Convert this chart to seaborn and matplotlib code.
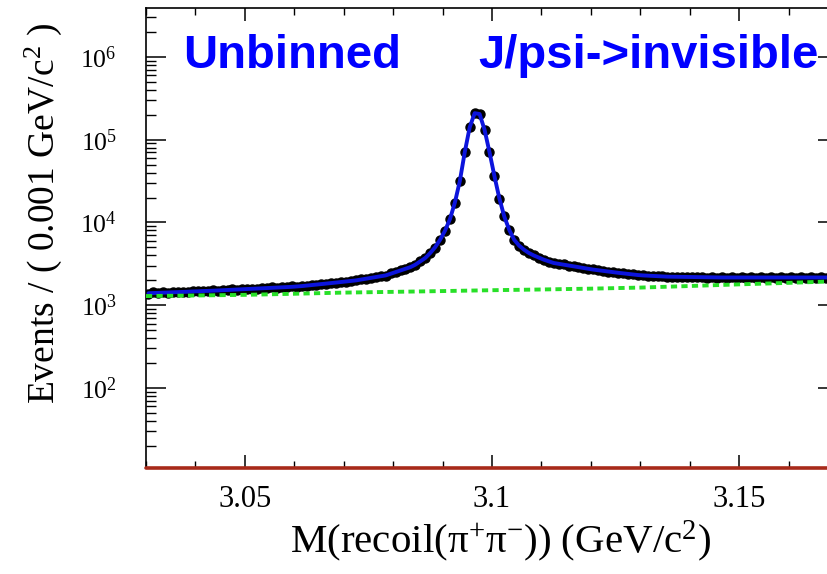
import numpy as np
import pandas as pd
import matplotlib
matplotlib.use("Agg")
import matplotlib.pyplot as plt
import seaborn as sns
from matplotlib.ticker import LogLocator, FixedLocator, MultipleLocator, NullFormatter, LogFormatterMathtext

# ---------------- data ----------------
bin_start = 3.03
bin_width = 0.001
n_bins = 140

data_counts = [
    1380, 1425, 1398, 1440, 1410, 1452, 1430, 1460, 1441, 1478,
    1465, 1490, 1476, 1512, 1495, 1530, 1514, 1549, 1532, 1570,
    1552, 1590, 1575, 1612, 1598, 1638, 1620, 1660, 1641, 1684,
    1670, 1722, 1710, 1768, 1760, 1820, 1810, 1873, 1868, 1930,
    1925, 1985, 1990, 2065, 2080, 2160, 2175, 2260, 2280, 2420,
    2495, 2650, 2740, 2905, 3070, 3410, 3690, 4300, 4980, 6200,
    7900, 11000, 17300, 31800, 70500, 141800, 209500, 203500, 132500, 70300,
    36500, 19400, 11800, 8100, 6190, 5220, 4700, 4245, 4000, 3740,
    3565, 3370, 3250, 3145, 3105, 3005, 2965, 2870, 2830, 2740,
    2705, 2630, 2612, 2540, 2525, 2455, 2440, 2375, 2360, 2305,
    2300, 2265, 2270, 2232, 2240, 2200, 2218, 2190, 2210, 2180,
    2198, 2170, 2190, 2160, 2185, 2150, 2180, 2155, 2175, 2150,
    2178, 2148, 2180, 2152, 2170, 2145, 2175, 2150, 2172, 2148,
    2176, 2150, 2170, 2145, 2174, 2152, 2168, 2150, 2172, 2160,
]

fit_counts = [
    1396, 1403, 1413, 1419, 1426, 1435, 1442, 1449, 1455, 1466,
    1472, 1483, 1489, 1500, 1507, 1517, 1528, 1538, 1545, 1556,
    1567, 1578, 1589, 1600, 1611, 1622, 1633, 1644, 1656, 1667,
    1683, 1702, 1726, 1750, 1774, 1799, 1824, 1854, 1879, 1910,
    1936, 1963, 1995, 2042, 2089, 2138, 2188, 2239, 2291, 2399,
    2512, 2630, 2754, 2884, 3090, 3388, 3715, 4266, 5012, 6166,
    7943, 10965, 17378, 31623, 70795, 141254, 208930, 204174, 131826, 70795,
    36308, 19498, 11749, 8128, 6166, 5248, 4677, 4266, 3981, 3758,
    3548, 3388, 3236, 3162, 3090, 3020, 2951, 2884, 2818, 2754,
    2692, 2642, 2600, 2553, 2512, 2466, 2427, 2388, 2344, 2317,
    2291, 2275, 2259, 2244, 2228, 2213, 2208, 2203, 2198, 2193,
    2188, 2183, 2178, 2173, 2168, 2163, 2163, 2163, 2163, 2163,
    2163, 2163, 2163, 2163, 2163, 2163, 2163, 2163, 2163, 2163,
    2163, 2163, 2163, 2163, 2163, 2163, 2163, 2163, 2163, 2163,
]

bkg_mass = [3.03, 3.04, 3.05, 3.06, 3.07, 3.08, 3.09, 3.10,
            3.11, 3.12, 3.13, 3.14, 3.15, 3.16, 3.17]
bkg_counts = [1290, 1310, 1334, 1375, 1420, 1450, 1482, 1518,
              1549, 1585, 1633, 1706, 1786, 1862, 1950]

xtick_vals = [3.05, 3.1, 3.15]
xtick_labels = ["3.05", "3.1", "3.15"]

# ---------------- style ----------------
sns.set_style("ticks")
plt.rcParams["font.family"] = ["Liberation Serif", "DejaVu Serif"]
plt.rcParams["mathtext.fontset"] = "custom"
plt.rcParams["mathtext.rm"] = "Liberation Serif"
plt.rcParams["mathtext.it"] = "Liberation Serif:italic"
plt.rcParams["mathtext.bf"] = "Liberation Serif:bold"
for k in ["text.color", "axes.labelcolor", "xtick.color", "ytick.color", "axes.edgecolor"]:
    plt.rcParams[k] = "black"

mass = bin_start + bin_width * (np.arange(n_bins) + 0.5)
df = pd.DataFrame({"mass": mass, "data": data_counts, "fit": fit_counts})
bdf = pd.DataFrame({"mass": bkg_mass, "bkg": bkg_counts})

fig = plt.figure(figsize=(8.28, 5.74), dpi=100)
ax = fig.add_axes([0.1763, 0.1847, 0.8357, 0.8014])
ax.set_yscale("log")

ymin, ymax = 10.8, 3.9e6

ax.errorbar(df["mass"], df["data"], yerr=np.sqrt(df["data"]), xerr=bin_width / 2,
            fmt="o", color="black", ms=6.5, elinewidth=1.5, capsize=0, zorder=2)
sns.lineplot(data=df, x="mass", y="fit", color="#0c14dc", lw=2.8, ax=ax, zorder=3)
sns.lineplot(data=bdf, x="mass", y="bkg", color="#28e028", lw=2.8, ax=ax, zorder=4,
             linestyle=(0, (1.6, 1.1)))
ax.axhline(ymin, color="#a82a1a", lw=2.6, zorder=5, clip_on=False)

ax.set_xlim(3.03, 3.17)
ax.set_ylim(ymin, ymax)

ax.xaxis.set_major_locator(FixedLocator(xtick_vals))
ax.set_xticklabels(xtick_labels)
ax.xaxis.set_minor_locator(MultipleLocator(0.01))
ax.yaxis.set_major_locator(LogLocator(base=10, numticks=15))
ax.yaxis.set_major_formatter(LogFormatterMathtext())
ax.yaxis.set_minor_locator(LogLocator(base=10, subs=np.arange(2, 10), numticks=15))
ax.yaxis.set_minor_formatter(NullFormatter())

ax.tick_params(axis="both", which="both", direction="in", top=True, right=True, colors="black")
ax.tick_params(axis="y", which="major", length=14.4, width=1.1, labelsize=18.5, pad=21)
ax.tick_params(axis="y", which="minor", length=7.2, width=1.0)
ax.tick_params(axis="x", which="major", length=9.4, width=1.1, labelsize=22, pad=12)
ax.tick_params(axis="x", which="minor", length=4.7, width=1.0)
for s in ax.spines.values():
    s.set_linewidth(1.2)
    s.set_color("black")

ax.set_xlabel("M(recoil(π$^{+}$π$^{-}$)) (GeV/c$^{2}$)", fontsize=29.5)
ax.set_ylabel("Events / ( 0.001 GeV/c$^{2}$ )", fontsize=27)
ax.xaxis.set_label_coords(0.513, -0.11)
ax.yaxis.set_label_coords(-0.1185, 0.554)

ax.text(0.0535, 0.8696, "Unbinned", transform=ax.transAxes, fontsize=34,
        fontweight="bold", color="#0000ff", family="Liberation Sans", va="baseline")
ax.text(0.4798, 0.8696, "J/psi->invisible", transform=ax.transAxes, fontsize=34,
        fontweight="bold", color="#0000ff", family="Liberation Sans", va="baseline")

fig.savefig("out.png", dpi=100)
